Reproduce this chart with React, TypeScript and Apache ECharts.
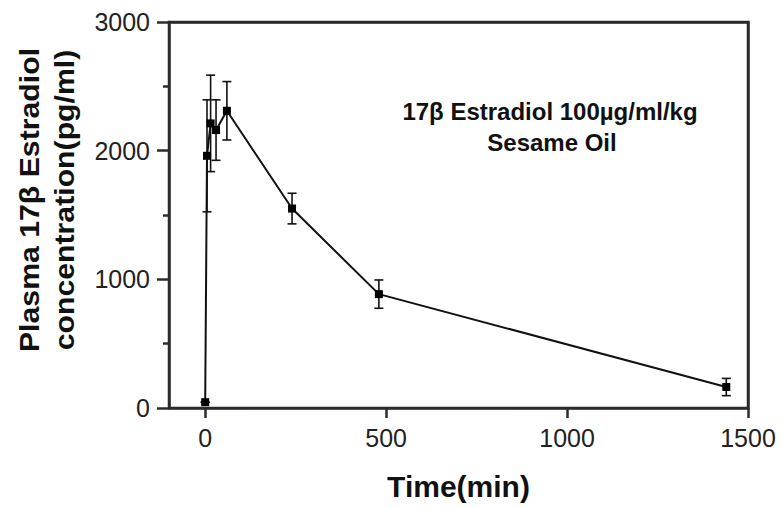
import React, { useEffect, useRef } from "react";
import * as echarts from "echarts";

const times = [0, 5, 15, 30, 60, 240, 480, 1440];
const means = [45, 1960, 2212, 2160, 2310, 1550, 885, 163];
const errors = [0, 435, 375, 235, 227, 119, 110, 67];
const xTicks = [0, 500, 1000, 1500];
const yTicks = [0, 1000, 2000, 3000];
const yTitleLines = ["Plasma 17β Estradiol", "concentration(pg/ml)"];
const xTitle = "Time(min)";
const noteLines = ["17β Estradiol 100µg/ml/kg", "Sesame Oil"];

const FONT = "'Liberation Sans', Arial, Helvetica, sans-serif";
const AXIS_COLOR = "#2b2b2b";
const AXIS_WIDTH = 2.5;
const X_MIN = -100;
const X_MAX = 1500;
const Y_MIN = 0;
const Y_MAX = 3000;

export default function App() {
  const ref = useRef<HTMLDivElement>(null);

  useEffect(() => {
    document.body.style.margin = "0";
    if (!ref.current) return;
    const chart = echarts.init(ref.current, null, { renderer: "svg" });

    const lineData = times.map((t, i) => [t, means[i]]);
    const errData = times.map((t, i) => [t, means[i] - errors[i], means[i] + errors[i]]);
    const ls = () => ({ color: AXIS_COLOR, width: AXIS_WIDTH });

    chart.setOption({
      animation: false,
      backgroundColor: "#fff",
      textStyle: { fontFamily: FONT },
      grid: {
        left: 169,
        top: 22,
        width: 579,
        height: 386,
        show: true,
        borderColor: AXIS_COLOR,
        borderWidth: AXIS_WIDTH,
        backgroundColor: "rgba(0,0,0,0)",
      },
      xAxis: [
        {
          type: "value",
          min: X_MIN,
          max: X_MAX,
          name: xTitle,
          nameLocation: "middle",
          nameGap: 63,
          nameTextStyle: { fontSize: 30, fontWeight: "bold", color: "#111", fontFamily: FONT },
          axisLine: { show: true, onZero: false, lineStyle: ls() },
          axisTick: { show: true, inside: false, length: 10, customValues: xTicks, lineStyle: ls() },
          axisLabel: {
            customValues: xTicks,
            margin: 17,
            fontSize: 25,
            color: "#222",
            fontFamily: FONT,
            formatter: (v: number) => String(v),
          },
          splitLine: { show: false },
        },
        {
          type: "value",
          position: "top",
          min: X_MIN,
          max: X_MAX,
          axisLine: { show: true, onZero: false, lineStyle: ls() },
          axisTick: { show: false },
          axisLabel: { show: false },
          splitLine: { show: false },
        },
      ],
      yAxis: [
        {
          type: "value",
          min: Y_MIN,
          max: Y_MAX,
          interval: 1000,
          axisLine: { show: true, onZero: false, lineStyle: ls() },
          axisTick: { show: true, inside: false, length: 12, lineStyle: ls() },
          minorTick: { show: true, splitNumber: 2, length: 6, lineStyle: ls() },
          axisLabel: {
            margin: 19,
            fontSize: 25,
            color: "#222",
            fontFamily: FONT,
            formatter: (v: number) => (yTicks.includes(v) ? String(v) : ""),
          },
          splitLine: { show: false },
          minorSplitLine: { show: false },
        },
        {
          type: "value",
          position: "right",
          min: Y_MIN,
          max: Y_MAX,
          axisLine: { show: true, onZero: false, lineStyle: ls() },
          axisTick: { show: false },
          axisLabel: { show: false },
          splitLine: { show: false },
        },
      ],
      graphic: [
        {
          type: "text",
          x: 47,
          y: 200,
          rotation: Math.PI / 2,
          scaleX: 1.12,
          style: {
            text: yTitleLines.join("\n"),
            font: `bold 27px ${FONT}`,
            fill: "#111",
            align: "center",
            verticalAlign: "middle",
            lineHeight: 35,
          },
        },
        {
          type: "text",
          x: 550,
          y: 111,
          style: { text: noteLines[0], font: `bold 24px ${FONT}`, fill: "#111", align: "center", verticalAlign: "middle" },
        },
        {
          type: "text",
          x: 552,
          y: 142,
          style: { text: noteLines[1], font: `bold 24px ${FONT}`, fill: "#111", align: "center", verticalAlign: "middle" },
        },
      ],
      series: [
        {
          type: "custom",
          data: errData,
          z: 2,
          encode: { x: 0, y: [1, 2] },
          renderItem: (params: any, api: any) => {
            const x = api.value(0);
            const lo = api.coord([x, api.value(1)]);
            const hi = api.coord([x, api.value(2)]);
            const hw = 4.5;
            const st = { stroke: "#111", lineWidth: 1.6 };
            return {
              type: "group",
              children: [
                { type: "line", shape: { x1: lo[0], y1: lo[1], x2: hi[0], y2: hi[1] }, style: st },
                { type: "line", shape: { x1: lo[0] - hw, y1: lo[1], x2: lo[0] + hw, y2: lo[1] }, style: st },
                { type: "line", shape: { x1: hi[0] - hw, y1: hi[1], x2: hi[0] + hw, y2: hi[1] }, style: st },
              ],
            };
          },
        },
        {
          type: "line",
          data: lineData,
          z: 3,
          symbol: "rect",
          symbolSize: 8,
          itemStyle: { color: "#000" },
          lineStyle: { color: "#111", width: 2 },
        },
      ],
    });

    return () => chart.dispose();
  }, []);

  return <div ref={ref} style={{ width: 783, height: 508 }} />;
}
